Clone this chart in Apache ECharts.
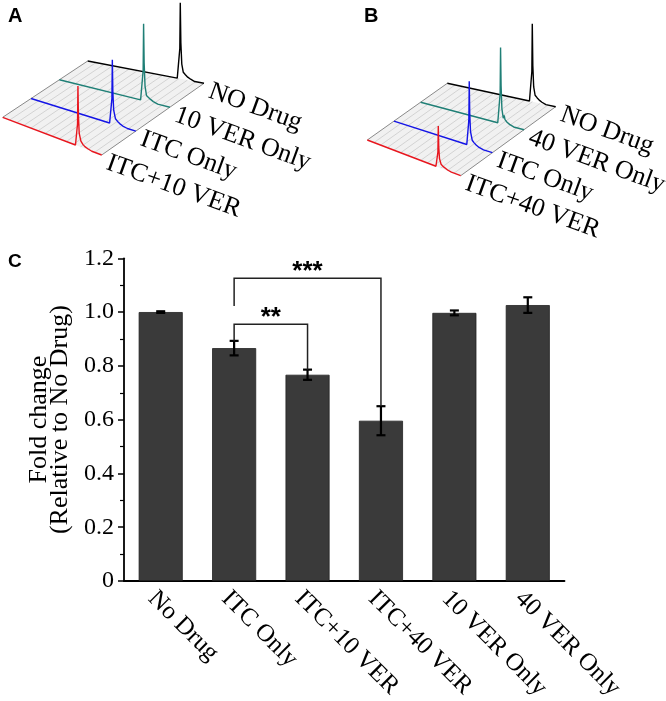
<!DOCTYPE html>
<html><head><meta charset="utf-8">
<script src="https://cdn.jsdelivr.net/npm/echarts@6/dist/echarts.min.js"></script>
<style>html,body{margin:0;padding:0;background:#fff}#c{width:666px;height:701px}</style>
</head><body><div id="c"></div>
<script>
// ---------------- Panel C data ----------------
const categories = ['No Drug', 'ITC Only', 'ITC+10 VER', 'ITC+40 VER', '10 VER Only', '40 VER Only'];
const foldChange = [1.000, 0.866, 0.767, 0.596, 0.997, 1.026];
const foldError  = [0.003, 0.027, 0.019, 0.054, 0.009, 0.029];
const yTicks = [0, 0.2, 0.4, 0.6, 0.8, 1.0, 1.2];
// significance brackets: [from category, to category, top, left foot, right foot]
const sigBrackets = [[1, 2, 0.955, 0.893, 0.786], [1, 3, 1.126, 1.023, 0.651]];
const sigLabels = ['**', '***'];

// ---------------- Panels A / B data (histograms: [channel 0-100, count]) ----------------
const traceNamesA = ['ITC+10 VER', 'ITC Only', '10 VER Only', 'NO Drug'];
const traceNamesB = ['ITC+40 VER', 'ITC Only', '40 VER Only', 'NO Drug'];
const histA_itc10 = [[0,0],[73.5,0],[75,2],[75.6,22],[76,60],[76.5,30],[77.3,13],[79,6],[81,3.5],[83,2],[86,1],[90,0],[100,0]];
const histA_itc   = [[0,0],[75,0],[76.6,2],[77.2,25],[77.6,64],[78.1,32],[78.9,14],[80.6,6],[82.6,4],[84.6,2.5],[87.6,1],[92,0],[100,0]];
const histA_ver10 = [[0,0],[73.5,0],[75,2],[75.8,30],[76.2,77],[76.7,38],[77.5,15],[78.8,6],[79.7,8],[80.5,5],[82.5,3],[85,1.5],[89,0],[100,0]];
const histA_none  = [[0,0],[77,0],[78.4,2],[79.2,30],[79.6,76],[80.1,36],[80.9,15],[82.2,7],[83.2,9],[84,5],[86,3],[88.5,1.5],[92,0],[100,0]];
const histB_itc40 = [[0,0],[73.5,0],[75,1.5],[75.6,15],[76,41],[76.5,20],[77.3,9],[79,4],[81,2.5],[83,1.5],[86,0.7],[90,0],[100,0]];
const histB_itc   = [[0,0],[74,0],[75.5,2],[76.1,25],[76.5,64],[77,32],[77.8,14],[79.5,6],[81.5,4],[83.5,2.5],[86.5,1],[91,0],[100,0]];
const histB_ver40 = [[0,0],[74.6,0],[76.1,2],[76.9,30],[77.3,76],[77.8,38],[78.6,15],[79.9,6],[80.8,9],[81.6,5],[83.6,3],[86,1.5],[90,0],[100,0]];
const histB_none  = [[0,0],[75.8,0],[77.2,2],[78,30],[78.4,78],[78.9,36],[79.7,15],[81,7],[82,9],[82.8,5],[84.8,3],[87.3,1.5],[91,0],[100,0]];

// ---------------- layout / style ----------------
const floorA = {FL: [2.7, 117.3], FR: [101.7, 155], BL: [87.7, 61], BR: [204, 83.3]};
const floorB = {FL: [367.3, 140], FR: [460.7, 175.7], BL: [447.3, 83.3], BR: [555.7, 106.7]};
const traceColors = ['#e8161e', '#1414e6', '#1f7f76', '#000000'];
const stripeCount = 14;
const serif = 'Liberation Serif';
const sans = 'Liberation Sans';

function project(f, ch, v, h) {
  const u = ch / 100;
  const fx = f.FL[0] + (f.FR[0] - f.FL[0]) * u, fy = f.FL[1] + (f.FR[1] - f.FL[1]) * u;
  const bx = f.BL[0] + (f.BR[0] - f.BL[0]) * u, by = f.BL[1] + (f.BR[1] - f.BL[1]) * u;
  return [fx + (bx - fx) * v, fy + (by - fy) * v - h];
}

function panelSeries(floor, names, hists) {
  const out = [];
  out.push({
    type: 'custom', xAxisIndex: 1, yAxisIndex: 1, z: 1, silent: true, data: [0],
    renderItem: function (params, api) {
      const c = (ch, v) => api.coord(project(floor, ch, v, 0));
      const children = [{type: 'polygon', shape: {points: [c(0,0), c(100,0), c(100,1), c(0,1)]},
        style: {fill: '#f1f1f1', stroke: null}}];
      for (let k = 1; k < stripeCount; k++) {
        const ch = 100 * k / stripeCount, a = c(ch, 0), b = c(ch, 1);
        children.push({type: 'line', shape: {x1: a[0], y1: a[1], x2: b[0], y2: b[1]},
          style: {stroke: '#c6c6c6', lineWidth: 0.7}});
      }
      [0, 100].forEach(ch => {
        const a = c(ch, 0), b = c(ch, 1);
        children.push({type: 'line', shape: {x1: a[0], y1: a[1], x2: b[0], y2: b[1]},
          style: {stroke: '#8a8a8a', lineWidth: 1}});
      });
      return {type: 'group', children};
    }
  });
  hists.forEach((h, i) => {
    const v = i / 3;
    out.push({
      type: 'line', xAxisIndex: 1, yAxisIndex: 1, silent: true, z: 10 - i,
      data: h.map(p => project(floor, p[0], v, p[1])),
      symbol: 'none', clip: false,
      lineStyle: {color: traceColors[i], width: 1.4}
    });
  });
  out.push({
    type: 'custom', xAxisIndex: 1, yAxisIndex: 1, z: 20, silent: true,
    data: names.map((n, i) => [100, i / 3]),
    renderItem: function (params, api) {
      const i = params.dataIndex;
      const p = api.coord(project(floor, 100, i / 3, 0));
      return {type: 'text', x: p[0] + 10, y: p[1] - 5, rotation: -20 * Math.PI / 180,
        style: {text: names[i], fill: '#000', font: '26px "' + serif + '"', align: 'left', verticalAlign: 'top'}};
    }
  });
  return out;
}

const chart = echarts.init(document.getElementById('c'), null, {renderer: 'canvas'});
const option = {
  animation: false,
  backgroundColor: '#fff',
  title: [
    {text: 'A', left: 8, top: 6, padding: 0, textStyle: {fontFamily: sans, fontSize: 20, fontWeight: 'bold', color: '#000'}},
    {text: 'B', left: 364, top: 6, padding: 0, textStyle: {fontFamily: sans, fontSize: 20, fontWeight: 'bold', color: '#000'}},
    {text: 'C', left: 8, top: 252, padding: 0, textStyle: {fontFamily: sans, fontSize: 19, fontWeight: 'bold', color: '#000'}}
  ],
  grid: [
    {left: 124, top: 258.3, width: 440.5, height: 322.7, containLabel: false, outerBoundsMode: 'none'},
    {left: 0, top: 0, width: 666, height: 701, containLabel: false, outerBoundsMode: 'none'}
  ],
  xAxis: [
    {type: 'category', gridIndex: 0, data: categories, boundaryGap: true,
      axisLine: {lineStyle: {color: '#000', width: 1.8}}, axisTick: {show: false},
      axisLabel: {rotate: -45, interval: 0, margin: 5, verticalAlign: 'top', fontFamily: serif, fontSize: 25, color: '#000'},
      splitLine: {show: false}},
    {type: 'value', gridIndex: 1, min: 0, max: 666, show: false}
  ],
  yAxis: [
    {type: 'value', gridIndex: 0, min: 0, max: 1.2, interval: 0.2,
      axisLine: {show: true, lineStyle: {color: '#000', width: 1.8}},
      axisTick: {show: true, length: 6, lineStyle: {color: '#000', width: 1.5}},
      minorTick: {show: true, splitNumber: 2, length: 4, lineStyle: {color: '#000', width: 1.2}},
      splitLine: {show: false},
      axisLabel: {margin: 10, fontFamily: serif, fontSize: 24, color: '#000',
        formatter: v => { const t = yTicks.find(x => Math.abs(x - v) < 1e-6); return t === 0 ? '0' : (t !== undefined ? t.toFixed(1) : ''); }},
      name: 'Fold change\n(Relative to No Drug)', nameLocation: 'middle', nameGap: 48,
      nameTextStyle: {fontFamily: serif, fontSize: 26, lineHeight: 21, color: '#000'}},
    {type: 'value', gridIndex: 1, min: 0, max: 701, inverse: true, show: false}
  ],
  series: [
    {type: 'bar', xAxisIndex: 0, yAxisIndex: 0, data: foldChange, barWidth: '60%', silent: true,
      itemStyle: {color: '#3a3a3a', borderColor: '#222', borderWidth: 0.8}},
    {type: 'custom', xAxisIndex: 0, yAxisIndex: 0, z: 5, silent: true,
      data: foldChange.map((v, i) => [i, v - foldError[i], v + foldError[i]]),
      renderItem: function (params, api) {
        const lo = api.coord([api.value(0), api.value(1)]), hi = api.coord([api.value(0), api.value(2)]);
        const cw = 4.5, st = {stroke: '#000', lineWidth: 2.2};
        return {type: 'group', children: [
          {type: 'line', shape: {x1: lo[0], y1: lo[1], x2: hi[0], y2: hi[1]}, style: st},
          {type: 'line', shape: {x1: lo[0] - cw, y1: lo[1], x2: lo[0] + cw, y2: lo[1]}, style: st},
          {type: 'line', shape: {x1: hi[0] - cw, y1: hi[1], x2: hi[0] + cw, y2: hi[1]}, style: st}
        ]};
      }},
    {type: 'custom', xAxisIndex: 0, yAxisIndex: 0, z: 6, silent: true,
      data: sigBrackets,
      renderItem: function (params, api) {
        const b = sigBrackets[params.dataIndex];
        const p1 = api.coord([b[0], b[3]]), p2 = api.coord([b[0], b[2]]);
        const p3 = api.coord([b[1], b[2]]), p4 = api.coord([b[1], b[4]]);
        return {type: 'group', children: [
          {type: 'polyline', shape: {points: [p1, p2, p3, p4]}, style: {stroke: '#222', lineWidth: 1.5, fill: null}},
          {type: 'text', x: (p2[0] + p3[0]) / 2, y: p2[1] - 6,
            style: {text: sigLabels[params.dataIndex], fill: '#000', font: 'bold 26px "' + sans + '"', align: 'center', verticalAlign: 'middle'}}
        ]};
      }}
  ]
    .concat(panelSeries(floorA, traceNamesA, [histA_itc10, histA_itc, histA_ver10, histA_none]))
    .concat(panelSeries(floorB, traceNamesB, [histB_itc40, histB_itc, histB_ver40, histB_none]))
};
chart.setOption(option);
</script></body></html>
